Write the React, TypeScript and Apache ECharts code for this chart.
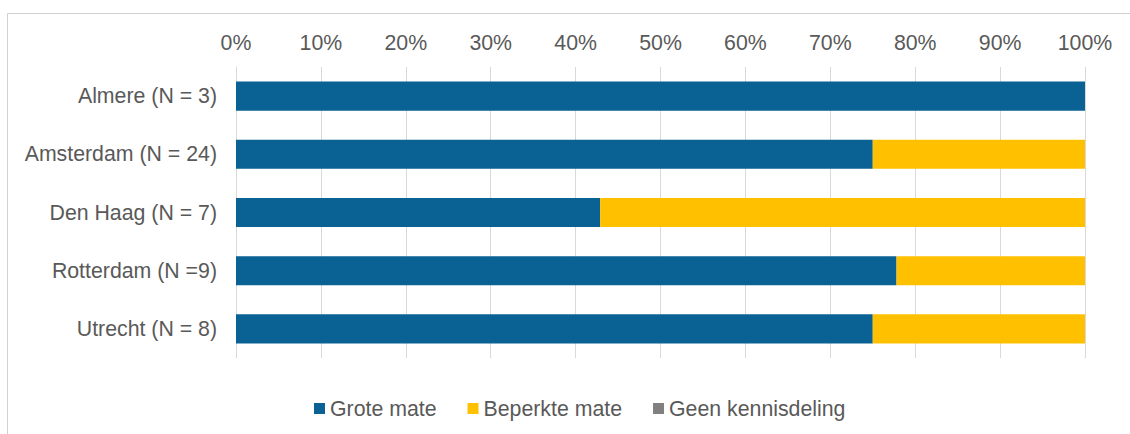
import React, { useEffect, useRef } from "react";
import * as echarts from "echarts";

const categories = ["Almere (N = 3)", "Amsterdam (N = 24)", "Den Haag (N = 7)", "Rotterdam (N =9)", "Utrecht (N = 8)"];
const seriesNames = ["Grote mate", "Beperkte mate", "Geen kennisdeling"];
const groteMate = [100, 75, 42.9, 77.8, 75];
const beperkteMate = [0, 25, 57.1, 22.2, 25];
const geenKennisdeling = [0, 0, 0, 0, 0];
const colors = ["#0A6194", "#FFC000", "#808080"];

const FONT = "'Liberation Sans', Arial, sans-serif";
const FS = 21.3;

export default function App() {
  const ref = useRef<HTMLDivElement>(null);
  useEffect(() => {
    if (!ref.current) return;
    const chart = echarts.init(ref.current, null, { renderer: "svg" });
    const values = [groteMate, beperkteMate, geenKennisdeling];
    chart.setOption({
      animation: false,
      textStyle: { fontFamily: FONT },
      grid: { left: 236, right: 45, top: 67, bottom: 76, containLabel: false },
      graphic: [
        { type: "line", shape: { x1: 7.5, y1: 13.5, x2: 1130, y2: 13.5 }, style: { stroke: "#d0d0d0", lineWidth: 1 } },
        { type: "line", shape: { x1: 7.5, y1: 13.5, x2: 7.5, y2: 434 }, style: { stroke: "#d0d0d0", lineWidth: 1 } },
      ],
      legend: {
        data: seriesNames,
        left: 314,
        top: 398,
        padding: 0,
        icon: "rect",
        itemWidth: 11,
        itemHeight: 11,
        itemGap: 31,
        textStyle: { fontSize: FS, color: "#595959", fontFamily: FONT },
      },
      xAxis: {
        type: "value",
        position: "top",
        min: 0,
        max: 100,
        interval: 10,
        axisLine: { show: false },
        axisTick: { show: false },
        axisLabel: { formatter: "{value}%", fontSize: FS, color: "#595959", margin: 14, fontFamily: FONT },
        splitLine: { show: true, lineStyle: { color: "#d9d9d9", width: 1 } },
      },
      yAxis: {
        type: "category",
        data: categories,
        inverse: true,
        axisLine: { show: true, lineStyle: { color: "#d9d9d9", width: 1 } },
        axisTick: { show: false },
        axisLabel: { fontSize: FS, color: "#595959", margin: 19, fontFamily: FONT },
      },
      series: seriesNames.map((name, i) => ({
        name,
        type: "bar",
        stack: "total",
        barWidth: "50%",
        itemStyle: { color: colors[i] },
        data: values[i],
      })),
    });
    return () => chart.dispose();
  }, []);
  return <div ref={ref} style={{ position: "fixed", left: 0, top: 0, width: 1130, height: 434, background: "#fff" }} />;
}
